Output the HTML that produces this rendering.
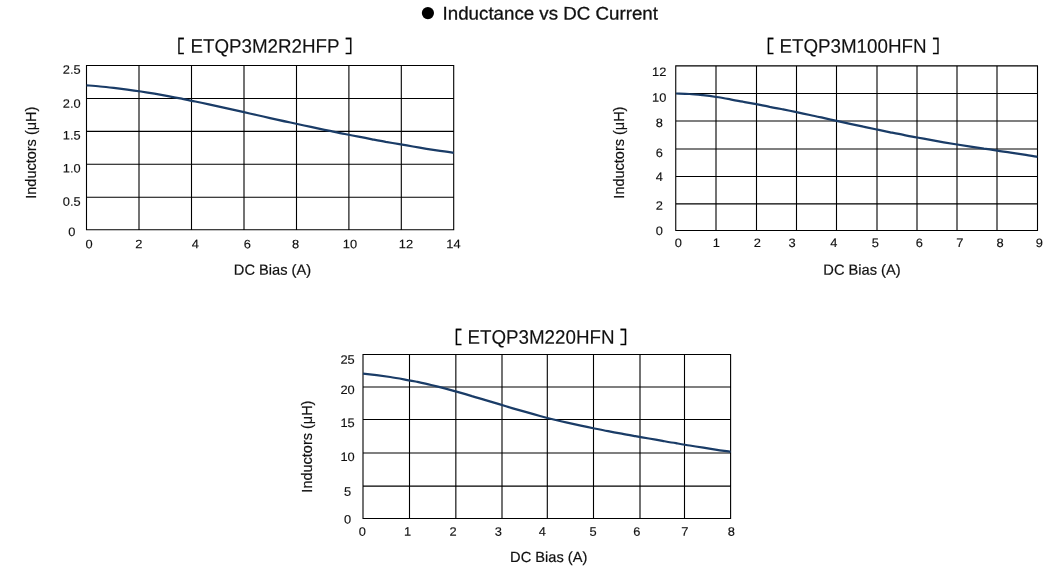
<!DOCTYPE html>
<html lang="en">
<head>
<meta charset="utf-8">
<title>Inductance vs DC Current</title>
<style>
html,body{margin:0;padding:0;background:#fff;}
body{width:1052px;height:568px;overflow:hidden;}
svg{display:block;}
text{font-family:"Liberation Sans","Noto Sans CJK JP",sans-serif;fill:#111;}
.t{font-size:18.8px;stroke:#111;stroke-width:0.12;}
.k{font-size:12.85px;text-anchor:middle;fill:#111;stroke:#111;stroke-width:0.15;}
.a{font-size:14.65px;text-anchor:middle;stroke:#111;stroke-width:0.2;}
.r{font-size:14.5px;}
.br{font-size:18.3px;font-family:"IPAGothic","Liberation Sans",sans-serif;fill:#000;stroke:#000;stroke-width:0.2;}
.g{stroke:#000;stroke-width:1.1;fill:none;}
.c{stroke:#1a3c67;stroke-width:2.25;fill:none;stroke-linecap:butt;stroke-linejoin:round;}
</style>
</head>
<body>
<svg width="1052" height="568" viewBox="0 0 1052 568">
<rect width="1052" height="568" fill="#ffffff"/>
<circle cx="427.9" cy="13.1" r="6.1" fill="#000"/>
<text transform="translate(442.6 19.4) rotate(0.03) scale(1 0.97)" style="font-size:18.73px;stroke:#111;stroke-width:0.3">Inductance vs DC Current</text>

<g>
<path class="g" d="M86.50 65.00V230.30M139.00 65.00V230.30M191.50 65.00V230.30M244.00 65.00V230.30M296.50 65.00V230.30M348.90 65.00V230.30M401.30 65.00V230.30M453.70 65.00V230.30M86.00 65.50H454.20M86.00 98.45H454.20M86.00 131.40H454.20M86.00 164.20H454.20M86.00 197.30H454.20M86.00 229.80H454.20"/>
<path class="c" d="M86.5 85.3 C88.8 85.5 95.6 86.0 100.1 86.5 C104.6 86.9 109.2 87.4 113.7 87.9 C118.2 88.4 122.8 89.0 127.3 89.6 C131.8 90.2 136.4 90.9 140.9 91.5 C145.4 92.2 150.0 93.0 154.5 93.7 C159.0 94.5 163.6 95.3 168.1 96.1 C172.6 96.9 177.2 97.8 181.7 98.7 C186.2 99.6 190.8 100.5 195.3 101.5 C199.8 102.4 204.4 103.4 208.9 104.4 C213.4 105.4 218.0 106.4 222.5 107.4 C227.0 108.4 231.6 109.4 236.1 110.4 C240.6 111.4 245.2 112.5 249.7 113.5 C254.2 114.5 258.8 115.5 263.3 116.5 C267.8 117.5 272.4 118.6 276.9 119.6 C281.4 120.6 286.0 121.6 290.5 122.5 C295.0 123.5 299.6 124.5 304.1 125.5 C308.6 126.5 313.2 127.4 317.7 128.4 C322.2 129.3 326.8 130.3 331.3 131.2 C335.8 132.1 340.4 133.0 344.9 134.0 C349.4 134.9 354.0 135.8 358.5 136.6 C363.0 137.5 367.6 138.4 372.1 139.3 C376.6 140.1 381.2 140.9 385.7 141.8 C390.2 142.6 394.8 143.4 399.3 144.2 C403.8 145.0 408.4 145.8 412.9 146.5 C417.4 147.3 422.0 148.0 426.5 148.8 C431.0 149.5 435.6 150.2 440.1 150.9 C444.6 151.5 451.4 152.5 453.7 152.9"/>
<text class="br" x="176.3" y="53.0">[</text>
<text class="t" transform="translate(190.40 52.80) rotate(0.03) scale(1 1.04)">ETQP3M2R2HFP</text>
<text class="br" x="344.3" y="53.0">]</text>
<text class="k" transform="translate(71.70 73.70) rotate(0.03) scale(1 0.95)">2.5</text>
<text class="k" transform="translate(71.70 107.70) rotate(0.03) scale(1 0.95)">2.0</text>
<text class="k" transform="translate(71.70 139.40) rotate(0.03) scale(1 0.95)">1.5</text>
<text class="k" transform="translate(71.70 172.60) rotate(0.03) scale(1 0.95)">1.0</text>
<text class="k" transform="translate(71.70 205.70) rotate(0.03) scale(1 0.95)">0.5</text>
<text class="k" transform="translate(71.70 236.10) rotate(0.03) scale(1 0.95)">0</text>
<text class="k" transform="translate(89.00 248.20) rotate(0.03) scale(1 0.95)">0</text>
<text class="k" transform="translate(138.90 248.20) rotate(0.03) scale(1 0.95)">2</text>
<text class="k" transform="translate(195.30 248.20) rotate(0.03) scale(1 0.95)">4</text>
<text class="k" transform="translate(247.30 248.20) rotate(0.03) scale(1 0.95)">6</text>
<text class="k" transform="translate(295.60 248.20) rotate(0.03) scale(1 0.95)">8</text>
<text class="k" transform="translate(350.00 248.20) rotate(0.03) scale(1 0.95)">10</text>
<text class="k" transform="translate(405.90 248.20) rotate(0.03) scale(1 0.95)">12</text>
<text class="k" transform="translate(453.40 248.20) rotate(0.03) scale(1 0.95)">14</text>
<text class="a" transform="translate(272.50 274.80) rotate(0.03) scale(1 1.0)">DC Bias (A)</text>
<text class="a r" transform="translate(36.00 152.70) rotate(-90) scale(1 1.04)">Inductors (μH)</text>
</g>
<g>
<path class="g" d="M675.75 65.40V231.00M716.00 65.40V231.00M756.50 65.40V231.00M796.50 65.40V231.00M836.50 65.40V231.00M877.00 65.40V231.00M917.00 65.40V231.00M957.00 65.40V231.00M997.00 65.40V231.00M1037.50 65.40V231.00M675.25 65.90H1038.00M675.25 93.50H1038.00M675.25 120.95H1038.00M675.25 149.00H1038.00M675.25 176.50H1038.00M675.25 203.90H1038.00M675.25 230.50H1038.00"/>
<path class="c" d="M676.0 93.5 C678.2 93.6 684.9 93.7 689.4 94.0 C693.9 94.2 698.3 94.7 702.8 95.2 C707.2 95.7 711.7 96.3 716.2 97.0 C720.6 97.6 725.1 98.4 729.6 99.2 C734.0 100.0 738.5 100.8 742.9 101.7 C747.4 102.5 751.9 103.4 756.3 104.2 C760.8 105.1 765.3 105.9 769.7 106.8 C774.2 107.6 778.6 108.5 783.1 109.4 C787.6 110.3 792.0 111.2 796.5 112.1 C801.0 113.1 805.4 114.0 809.9 115.0 C814.4 115.9 818.8 116.9 823.3 117.9 C827.7 118.9 832.2 119.9 836.7 120.8 C841.1 121.8 845.6 122.8 850.1 123.8 C854.5 124.7 859.0 125.7 863.4 126.7 C867.9 127.6 872.4 128.6 876.8 129.5 C881.3 130.4 885.8 131.4 890.2 132.3 C894.7 133.2 899.1 134.1 903.6 134.9 C908.1 135.8 912.5 136.7 917.0 137.5 C921.5 138.3 925.9 139.1 930.4 139.9 C934.9 140.7 939.3 141.5 943.8 142.3 C948.2 143.0 952.7 143.8 957.2 144.5 C961.6 145.2 966.1 145.9 970.6 146.6 C975.0 147.3 979.5 148.0 983.9 148.7 C988.4 149.3 992.9 150.0 997.3 150.7 C1001.8 151.4 1006.3 152.0 1010.7 152.7 C1015.2 153.4 1019.6 154.0 1024.1 154.7 C1028.6 155.4 1035.3 156.4 1037.5 156.8"/>
<text class="br" x="765.8" y="53.0">[</text>
<text class="t" transform="translate(779.40 52.80) rotate(0.03) scale(1 1.04)">ETQP3M100HFN</text>
<text class="br" x="931.5" y="53.0">]</text>
<text class="k" transform="translate(659.20 75.90) rotate(0.03) scale(1 0.95)">12</text>
<text class="k" transform="translate(659.20 101.80) rotate(0.03) scale(1 0.95)">10</text>
<text class="k" transform="translate(659.20 126.90) rotate(0.03) scale(1 0.95)">8</text>
<text class="k" transform="translate(659.20 157.00) rotate(0.03) scale(1 0.95)">6</text>
<text class="k" transform="translate(659.20 180.90) rotate(0.03) scale(1 0.95)">4</text>
<text class="k" transform="translate(659.20 209.70) rotate(0.03) scale(1 0.95)">2</text>
<text class="k" transform="translate(659.20 234.90) rotate(0.03) scale(1 0.95)">0</text>
<text class="k" transform="translate(678.30 246.90) rotate(0.03) scale(1 0.95)">0</text>
<text class="k" transform="translate(716.40 246.90) rotate(0.03) scale(1 0.95)">1</text>
<text class="k" transform="translate(757.20 246.90) rotate(0.03) scale(1 0.95)">2</text>
<text class="k" transform="translate(792.10 246.90) rotate(0.03) scale(1 0.95)">3</text>
<text class="k" transform="translate(833.70 246.90) rotate(0.03) scale(1 0.95)">4</text>
<text class="k" transform="translate(875.30 246.90) rotate(0.03) scale(1 0.95)">5</text>
<text class="k" transform="translate(919.40 246.90) rotate(0.03) scale(1 0.95)">6</text>
<text class="k" transform="translate(959.70 246.90) rotate(0.03) scale(1 0.95)">7</text>
<text class="k" transform="translate(1000.00 246.90) rotate(0.03) scale(1 0.95)">8</text>
<text class="k" transform="translate(1039.40 246.90) rotate(0.03) scale(1 0.95)">9</text>
<text class="a" transform="translate(862.00 274.80) rotate(0.03) scale(1 1.0)">DC Bias (A)</text>
<text class="a r" transform="translate(624.10 152.60) rotate(-90) scale(1 1.04)">Inductors (μH)</text>
</g>
<g>
<path class="g" d="M363.00 354.00V519.00M409.50 354.00V519.00M455.85 354.00V519.00M502.00 354.00V519.00M547.30 354.00V519.00M593.50 354.00V519.00M640.00 354.00V519.00M684.50 354.00V519.00M730.60 354.00V519.00M362.50 354.50H731.10M362.50 387.00H731.10M362.50 419.50H731.10M362.50 453.00H731.10M362.50 486.10H731.10M362.50 518.50H731.10"/>
<path class="c" d="M363.0 373.7 C365.3 373.9 372.1 374.6 376.6 375.2 C381.2 375.8 385.7 376.4 390.2 377.0 C394.8 377.7 399.3 378.5 403.8 379.3 C408.4 380.1 412.9 381.0 417.5 381.9 C422.0 382.9 426.5 383.9 431.1 385.0 C435.6 386.1 440.2 387.3 444.7 388.4 C449.2 389.6 453.8 390.9 458.3 392.2 C462.8 393.4 467.4 394.7 471.9 396.1 C476.5 397.4 481.0 398.8 485.5 400.1 C490.1 401.5 494.6 402.8 499.1 404.2 C503.7 405.6 508.2 406.9 512.8 408.3 C517.3 409.6 521.8 410.9 526.4 412.2 C530.9 413.5 535.5 414.8 540.0 416.0 C544.5 417.2 549.1 418.4 553.6 419.5 C558.1 420.6 562.7 421.7 567.2 422.7 C571.8 423.7 576.3 424.7 580.8 425.7 C585.4 426.7 589.9 427.6 594.5 428.5 C599.0 429.4 603.5 430.3 608.1 431.1 C612.6 432.0 617.1 432.8 621.7 433.6 C626.2 434.5 630.8 435.3 635.3 436.1 C639.8 436.9 644.4 437.7 648.9 438.5 C653.4 439.3 658.0 440.1 662.5 440.9 C667.1 441.7 671.6 442.5 676.1 443.2 C680.7 444.0 685.2 444.8 689.8 445.5 C694.3 446.3 698.8 447.0 703.4 447.7 C707.9 448.5 712.4 449.2 717.0 449.9 C721.5 450.6 728.3 451.5 730.6 451.9"/>
<text class="br" x="453.8" y="344.0">[</text>
<text class="t" transform="translate(467.40 343.70) rotate(0.03) scale(1 1.04)">ETQP3M220HFN</text>
<text class="br" x="619.1" y="344.0">]</text>
<text class="k" transform="translate(347.60 363.70) rotate(0.03) scale(1 0.95)">25</text>
<text class="k" transform="translate(347.60 394.00) rotate(0.03) scale(1 0.95)">20</text>
<text class="k" transform="translate(347.60 426.90) rotate(0.03) scale(1 0.95)">15</text>
<text class="k" transform="translate(347.60 460.90) rotate(0.03) scale(1 0.95)">10</text>
<text class="k" transform="translate(347.60 495.70) rotate(0.03) scale(1 0.95)">5</text>
<text class="k" transform="translate(347.60 523.60) rotate(0.03) scale(1 0.95)">0</text>
<text class="k" transform="translate(362.40 535.80) rotate(0.03) scale(1 0.95)">0</text>
<text class="k" transform="translate(407.50 535.80) rotate(0.03) scale(1 0.95)">1</text>
<text class="k" transform="translate(453.10 535.80) rotate(0.03) scale(1 0.95)">2</text>
<text class="k" transform="translate(498.30 535.80) rotate(0.03) scale(1 0.95)">3</text>
<text class="k" transform="translate(542.40 535.80) rotate(0.03) scale(1 0.95)">4</text>
<text class="k" transform="translate(593.00 535.80) rotate(0.03) scale(1 0.95)">5</text>
<text class="k" transform="translate(636.70 535.80) rotate(0.03) scale(1 0.95)">6</text>
<text class="k" transform="translate(684.90 535.80) rotate(0.03) scale(1 0.95)">7</text>
<text class="k" transform="translate(731.40 535.80) rotate(0.03) scale(1 0.95)">8</text>
<text class="a" transform="translate(548.70 562.00) rotate(0.03) scale(1 1.0)">DC Bias (A)</text>
<text class="a r" transform="translate(312.00 446.60) rotate(-90) scale(1 1.04)">Inductors (μH)</text>
</g>
</svg>
</body>
</html>
